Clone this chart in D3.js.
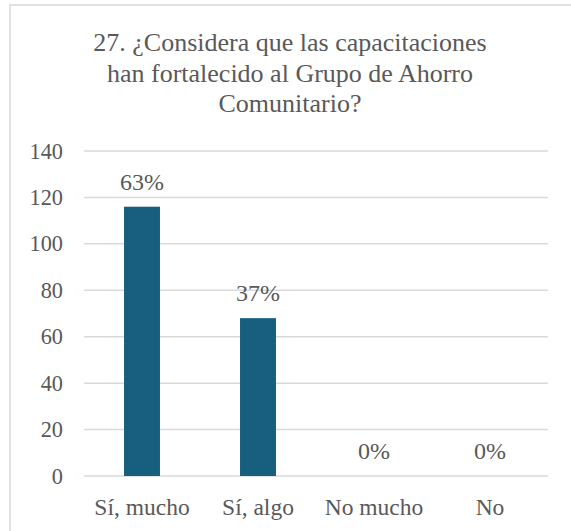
<!DOCTYPE html>
<html>
<head>
<meta charset="utf-8">
<script src="https://cdn.jsdelivr.net/npm/d3@7"></script>
<style>
  html, body { margin: 0; padding: 0; background: #fff; }
  svg { display: block; }
</style>
</head>
<body>
<svg id="chart" width="571" height="531"></svg>
<script>
const categories = ["Sí, mucho", "Sí, algo", "No mucho", "No"];
const values = [116, 68, 0, 0];
const percentLabels = ["63%", "37%", "0%", "0%"];
const yTicks = [0, 20, 40, 60, 80, 100, 120, 140];
const titleLines = ["27. ¿Considera que las capacitaciones", "han fortalecido al Grupo de Ahorro", "Comunitario?"];

const FONT = "Liberation Serif";
const TXT = "#595959";
const svg = d3.select("#chart");
const W = 571, H = 531;

// outer border
svg.append("rect")
  .attr("x", 10).attr("y", 5)
  .attr("width", W + 20).attr("height", H + 20)
  .attr("fill", "#fff").attr("stroke", "#d9d9d9").attr("stroke-width", 1.5);

const plot = { left: 84, right: 548, top: 151, bottom: 476 };

const x = d3.scaleBand().domain(categories).range([plot.left, plot.right]).paddingInner(0.69).paddingOuter(0.345);
const y = d3.scaleLinear().domain([0, 140]).range([plot.bottom, plot.top]);

// title
const title = svg.append("text")
  .attr("x", 290).attr("y", 51)
  .attr("text-anchor", "middle")
  .attr("font-family", FONT).attr("font-size", 26).attr("fill", TXT);
title.selectAll("tspan").data(titleLines).join("tspan")
  .attr("x", 290).attr("dy", (d, i) => i === 0 ? 0 : 30.6)
  .text(d => d);

// gridlines
svg.append("g").selectAll("line").data(yTicks).join("line")
  .attr("x1", plot.left).attr("x2", plot.right)
  .attr("y1", d => y(d)).attr("y2", d => y(d))
  .attr("stroke", "#d9d9d9").attr("stroke-width", 1.5);

// y axis labels
const yAxis = d3.axisLeft(y).tickValues(yTicks).tickSize(0).tickPadding(0);
const gy = svg.append("g").attr("transform", `translate(63,0)`).call(yAxis)
  .attr("font-family", FONT).attr("font-size", 22.3);
gy.select(".domain").remove();
gy.selectAll("text").attr("fill", TXT);

// bars
svg.append("g").selectAll("rect").data(categories).join("rect")
  .attr("x", d => x(d))
  .attr("width", x.bandwidth())
  .attr("y", (d, i) => y(values[i]))
  .attr("height", (d, i) => y(0) - y(values[i]))
  .attr("fill", "#175e7f");

// data labels
svg.append("g").attr("font-family", FONT).attr("font-size", 24)
  .selectAll("text").data(categories).join("text")
  .attr("x", d => x(d) + x.bandwidth() / 2)
  .attr("y", (d, i) => y(values[i]) - 17)
  .attr("text-anchor", "middle")
  .attr("fill", TXT)
  .text((d, i) => percentLabels[i]);

// x axis labels
const xAxis = d3.axisBottom(x).tickSize(0).tickPadding(0);
const gx = svg.append("g").attr("transform", `translate(0,${plot.bottom})`).call(xAxis)
  .attr("font-family", FONT).attr("font-size", 23.5);
gx.select(".domain").remove();
gx.selectAll("text").attr("fill", TXT).attr("dy", null).attr("y", 39);
</script>
</body>
</html>
